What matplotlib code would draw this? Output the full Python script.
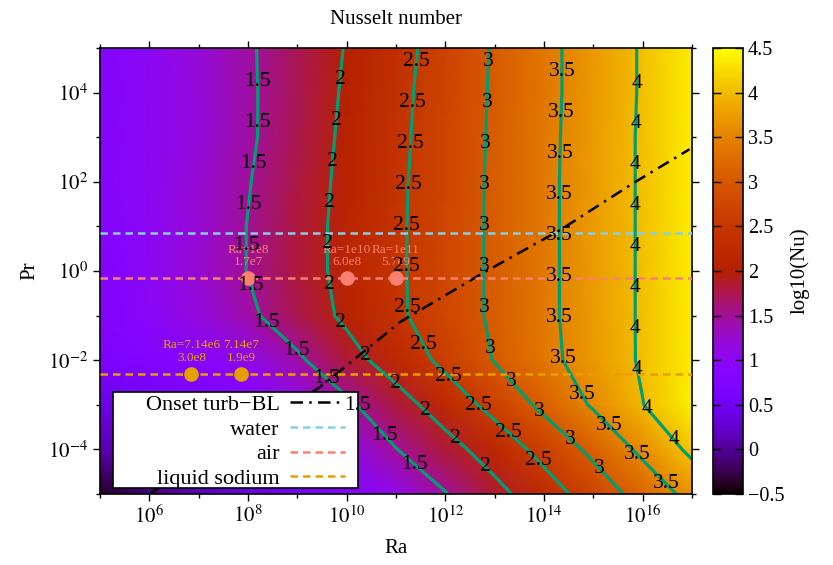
import numpy as np
import matplotlib
matplotlib.use('Agg')
import matplotlib.pyplot as plt
from matplotlib.patches import Rectangle
from matplotlib.ticker import FixedLocator, FuncFormatter

plt.rcParams['font.family'] = ['Liberation Serif', 'DejaVu Serif']
plt.rcParams['mathtext.fontset'] = 'stix'

# grid of the map: log10(Ra) columns, log10(Pr) rows
log_ra = [5, 6, 7, 8, 9, 10, 11, 12, 13, 14, 15, 16, 17]
log_pr = [-5, -4, -3, -2, -1, 0, 1, 2, 3, 4, 5]

# log10(Nu), one list per log10(Pr) row (bottom to top)
nu_pr_m5 = [-0.4, -0.1, 0.15, 0.35, 0.55, 0.8, 1.1, 1.48, 1.86, 2.27, 2.72, 3.18, 3.65]
nu_pr_m4 = [0.1, 0.3, 0.45, 0.65, 0.85, 1.1, 1.49, 1.83, 2.21, 2.65, 3.11, 3.6, 4.1]
nu_pr_m3 = [0.4, 0.55, 0.7, 0.85, 1.05, 1.42, 1.81, 2.22, 2.65, 3.11, 3.55, 3.99, 4.4]
nu_pr_m2 = [0.7, 0.8, 0.9, 1.05, 1.43, 1.83, 2.21, 2.61, 3.02, 3.37, 3.71, 4.05, 4.38]
nu_pr_m1 = [0.78, 0.96, 1.17, 1.42, 1.75, 2.08, 2.42, 2.75, 3.07, 3.40, 3.72, 4.05, 4.38]
nu_pr_0 = [0.8, 1.0, 1.23, 1.51, 1.81, 2.12, 2.43, 2.75, 3.07, 3.40, 3.72, 4.05, 4.38]
nu_pr_1 = [0.82, 1.0, 1.23, 1.51, 1.81, 2.12, 2.43, 2.75, 3.07, 3.40, 3.72, 4.05, 4.38]
nu_pr_2 = [0.83, 1.0, 1.22, 1.48, 1.79, 2.10, 2.42, 2.74, 3.07, 3.40, 3.72, 4.05, 4.38]
nu_pr_3 = [0.82, 0.99, 1.19, 1.44, 1.75, 2.08, 2.40, 2.73, 3.06, 3.39, 3.72, 4.05, 4.38]
nu_pr_4 = [0.81, 0.99, 1.19, 1.44, 1.74, 2.05, 2.38, 2.72, 3.05, 3.38, 3.71, 4.04, 4.38]
nu_pr_5 = [0.82, 1.0, 1.2, 1.45, 1.74, 2.02, 2.35, 2.69, 3.04, 3.38, 3.71, 4.04, 4.38]

levels = [1.5, 2, 2.5, 3, 3.5, 4]

# onset of turbulent boundary layer (log10 Ra, log10 Pr)
onset_ra = [6.0, 9.46, 10.21, 11.09, 12.77, 14.33, 15.81, 16.95]
onset_pr = [-5.0, -2.6, -1.93, -1.14, -0.04, 0.92, 1.97, 2.73]

# fluids
pr_water = 7.0
pr_air = 0.7
pr_sodium = 0.005
air_ra = [1e8, 1e10, 1e11]
air_text = ['Ra=1e8\n1.7e7', 'Ra=1e10\n6.0e8', 'Ra=1e11\n5.7e9']
sodium_ra = [7.14e6, 7.14e7]
sodium_text = ['Ra=7.14e6\n3.0e8', '7.14e7\n1.9e9']

c_water = '#87ceeb'
c_air = '#fa8072'
c_sodium = '#e69f00'

nu = np.array([nu_pr_m5, nu_pr_m4, nu_pr_m3, nu_pr_m2, nu_pr_m1, nu_pr_0,
               nu_pr_1, nu_pr_2, nu_pr_3, nu_pr_4, nu_pr_5])

fig = plt.figure(figsize=(8.33, 5.65), dpi=100)
ax = fig.add_axes([100 / 833, 71 / 565, 592 / 833, 446 / 565])
cax = fig.add_axes([713 / 833, 71 / 565, 30 / 833, 446 / 565])

mesh = ax.pcolormesh(log_ra, log_pr, nu, shading='gouraud', cmap='gnuplot',
                     vmin=-0.5, vmax=4.5, zorder=0)
cs = ax.contour(log_ra, log_pr, nu, levels=levels, colors='#009e73',
                linewidths=2.3, zorder=2)

ax.set_xlim(5, 17)
ax.set_ylim(-5, 5)

# lines for the fluids
ax.plot(onset_ra, onset_pr, color='black', lw=1.8,
        linestyle=(0, (5, 2.5, 1, 2.5)), label='Onset turb\u2212BL', zorder=3)
for pr, c, name in [(pr_water, c_water, 'water'), (pr_air, c_air, 'air'),
                    (pr_sodium, c_sodium, 'liquid sodium')]:
    ax.plot([5, 17], [np.log10(pr)] * 2, color=c, lw=1.8,
            linestyle=(0, (3, 2)), label=name, zorder=3)

ax.plot(np.log10(air_ra), [np.log10(pr_air)] * len(air_ra), 'o', color=c_air,
        ms=9.5, zorder=4)
for r, t in zip(air_ra, air_text):
    ax.annotate(t, (np.log10(r), np.log10(pr_air)), xytext=(0, 7),
                textcoords='offset points', ha='center', va='bottom',
                color=c_air, fontsize=9.5, linespacing=1.05, zorder=4)
ax.plot(np.log10(sodium_ra), [np.log10(pr_sodium)] * len(sodium_ra), 'o',
        color=c_sodium, ms=9.5, zorder=4)
for r, t in zip(sodium_ra, sodium_text):
    ax.annotate(t, (np.log10(r), np.log10(pr_sodium)), xytext=(0, 7),
                textcoords='offset points', ha='center', va='bottom',
                color=c_sodium, fontsize=9.5, linespacing=1.05, zorder=4)

# contour labels every ~41 px along each line, like gnuplot
starts = {1.5: 34, 2: 32, 2.5: 14, 3: 14, 3.5: 24, 4: 35}
inv = ax.transData.inverted()
for level, path in zip(cs.levels, cs.get_paths()):
    for seg in path.to_polygons(closed_only=False):
        if len(seg) < 2:
            continue
        pts = ax.transData.transform(seg)
        if pts[0, 1] < pts[-1, 1]:
            pts = pts[::-1]
        d = np.r_[0, np.cumsum(np.hypot(*np.diff(pts, axis=0).T))]
        s = starts[level]
        while s < d[-1] - 6:
            px = np.interp(s, d, pts[:, 0])
            py = np.interp(s, d, pts[:, 1])
            xd, yd = inv.transform((px, py))
            ax.text(xd, yd, f'{level:g}', ha='center', va='center',
                    fontsize=15.5, color='black', zorder=6)
            s += 41

# legend: gnuplot-style box with right-aligned labels
ax.add_patch(Rectangle((0.022, 0.0135), 0.414, 0.215, transform=ax.transAxes,
                       facecolor='white', edgecolor='black', lw=1.2,
                       zorder=4.9))
leg = ax.legend(loc='center right', bbox_to_anchor=(0.414, 0.117),
                borderaxespad=0, markerfirst=False, fontsize=16,
                handlelength=2.5, handletextpad=0.45, labelspacing=0.18,
                borderpad=0, frameon=False)
leg.set_zorder(5)

# ticks
fmt = FuncFormatter(lambda v, p: f'$10^{{{int(round(v))}}}$')
ax.xaxis.set_major_locator(FixedLocator([6, 8, 10, 12, 14, 16]))
ax.xaxis.set_minor_locator(FixedLocator([5, 7, 9, 11, 13, 15, 17]))
ax.yaxis.set_major_locator(FixedLocator([-4, -2, 0, 2, 4]))
ax.yaxis.set_minor_locator(FixedLocator([-5, -3, -1, 1, 3, 5]))
ax.xaxis.set_major_formatter(fmt)
ax.yaxis.set_major_formatter(fmt)
ax.tick_params(which='both', direction='out', top=True, right=True,
               labelsize=15, width=1)
ax.tick_params(which='major', length=5)
ax.tick_params(which='minor', length=3)
for sp in ax.spines.values():
    sp.set_linewidth(1.2)

ax.set_xlabel('Ra', fontsize=15, labelpad=8)
ax.set_ylabel('Pr', fontsize=15, labelpad=6)
ax.set_title('Nusselt number', fontsize=15, pad=17)

cb = fig.colorbar(mesh, cax=cax,
                  ticks=[-0.5, 0, 0.5, 1, 1.5, 2, 2.5, 3, 3.5, 4, 4.5])
cb.ax.tick_params(direction='in', left=True, right=True, length=6,
                  width=1, labelsize=14.5)
cb.ax.yaxis.set_major_formatter(FuncFormatter(lambda v, p: f'{v:g}'.replace('-', '\u2212')))
cb.outline.set_linewidth(1.2)
cb.set_label('log10(Nu)', fontsize=15, labelpad=4)

fig.savefig('out.png', dpi=100)
